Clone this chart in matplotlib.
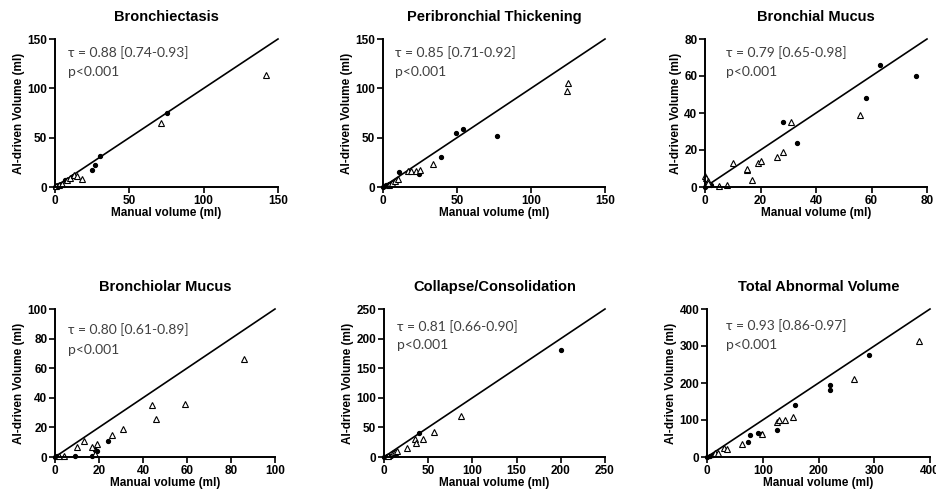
import matplotlib
matplotlib.use("Agg")
import matplotlib.pyplot as plt

plt.rcParams['font.family'] = ['Liberation Sans', 'DejaVu Sans']

titles = ["Bronchiectasis", "Peribronchial Thickening", "Bronchial Mucus",
          "Bronchiolar Mucus", "Collapse/Consolidation", "Total Abnormal Volume"]
stats = ["τ = 0.88 [0.74-0.93]", "τ = 0.85 [0.71-0.92]", "τ = 0.79 [0.65-0.98]",
         "τ = 0.80 [0.61-0.89]", "τ = 0.81 [0.66-0.90]", "τ = 0.93 [0.86-0.97]"]
pvals = ["p<0.001"] * 6
axis_max = [150, 150, 80, 100, 250, 400]
tick_step = [50, 50, 20, 20, 50, 100]

# circles (filled) : manual, AI
circ_x = [
    [0, 1, 2, 3, 4, 7, 12, 25, 27, 30, 75],
    [0, 1, 2, 4, 6, 11, 24, 39, 49, 54, 77],
    [0, 1, 2, 28, 33, 58, 63, 76],
    [0, 1, 9, 17, 18, 19, 24],
    [0, 3, 5, 8, 40, 200],
    [0, 5, 10, 74, 77, 92, 96, 126, 158, 220, 220, 290],
]
circ_y = [
    [0, 1, 2, 1, 3, 7, 11, 17, 22, 31, 75],
    [0, 1, 2, 3, 4, 15, 13, 30, 55, 59, 52],
    [0, 1, 1, 35, 24, 48, 66, 60],
    [0, 1, 1, 1, 5, 4, 11],
    [0, 1, 1, 2, 40, 180],
    [0, 3, 5, 40, 60, 65, 63, 73, 140, 180, 195, 275],
]
# triangles (open) : manual, AI
tri_x = [
    [1, 3, 5, 8, 10, 13, 15, 18, 71, 142],
    [4, 6, 8, 10, 17, 19, 22, 25, 34, 124, 125],
    [0, 0.5, 1, 1, 5, 8, 10, 15, 15, 17, 19, 20, 26, 28, 31, 56],
    [2, 4, 10, 13, 17, 18, 19, 26, 31, 44, 46, 59, 86],
    [5, 10, 12, 15, 26, 35, 36, 44, 56, 87],
    [15, 20, 30, 35, 62, 98, 126, 130, 140, 155, 264, 380],
]
tri_y = [
    [1, 2, 3, 7, 9, 12, 11, 8, 65, 114],
    [2, 4, 6, 8, 16, 16, 16, 17, 23, 97, 105],
    [6, 5, 3, 2, 0.5, 1, 13, 9, 10, 4, 13, 14, 16, 19, 35, 39],
    [1, 1, 7, 11, 7, 2, 9, 15, 19, 35, 26, 36, 66],
    [2, 6, 8, 10, 16, 30, 23, 30, 43, 69],
    [10, 12, 25, 22, 35, 62, 95, 100, 100, 109, 210, 313],
]

fig = plt.figure(figsize=(9.36, 4.95), dpi=100)
lefts = [55, 383, 705, 55, 384, 707]
widths = [223, 222, 222, 220, 221, 223]
bottoms = [187, 187, 187, 457, 457, 457]
heights = [148, 148, 148, 148, 148, 148]
txt_x = [0.06, 0.054, 0.095, 0.06, 0.06, 0.085]
txt_y1 = [0.905, 0.905, 0.905, 0.86, 0.88, 0.885]
txt_y2 = [0.777, 0.777, 0.777, 0.72, 0.757, 0.76]
W, H = 936, 495

for i in range(6):
    ax = fig.add_axes([lefts[i] / W, 1 - bottoms[i] / H, widths[i] / W, heights[i] / H])
    m = axis_max[i]
    ax.plot([0, m], [0, m], color='black', lw=1.2, clip_on=False)
    ax.plot(circ_x[i], circ_y[i], 'o', ms=2.8, color='black', clip_on=False)
    ax.plot(tri_x[i], tri_y[i], '^', ms=4.5, mfc='white', mec='black', mew=0.8,
            clip_on=False, linestyle='none')
    ax.set_xlim(0, m)
    ax.set_ylim(0, m)
    ticks = list(range(0, m + 1, tick_step[i]))
    ax.set_xticks(ticks)
    ax.set_yticks(ticks)
    for s in ['top', 'right']:
        ax.spines[s].set_visible(False)
    for s in ['left', 'bottom']:
        ax.spines[s].set_linewidth(1.4)
    ax.tick_params(direction='out', length=4, width=1.2, labelsize=8.5, pad=1.5)
    for lab in ax.get_xticklabels() + ax.get_yticklabels():
        lab.set_fontweight('bold')
    ax.set_title(titles[i], fontsize=10.5, fontweight='bold', pad=13)
    ax.set_xlabel("Manual volume (ml)", fontsize=8.5, fontweight='bold', labelpad=0.5)
    ax.set_ylabel("AI-driven Volume (ml)", fontsize=8.5, fontweight='bold', labelpad=1.5)
    ax.text(txt_x[i], txt_y1[i], stats[i], transform=ax.transAxes, fontsize=10,
            family=['Lato', 'DejaVu Sans'], color='#404040', va='center', ha='left')
    ax.text(txt_x[i], txt_y2[i], pvals[i], transform=ax.transAxes, fontsize=10,
            family=['Lato', 'DejaVu Sans'], color='#404040', va='center', ha='left')

fig.savefig("out.png", dpi=100, facecolor='white')
